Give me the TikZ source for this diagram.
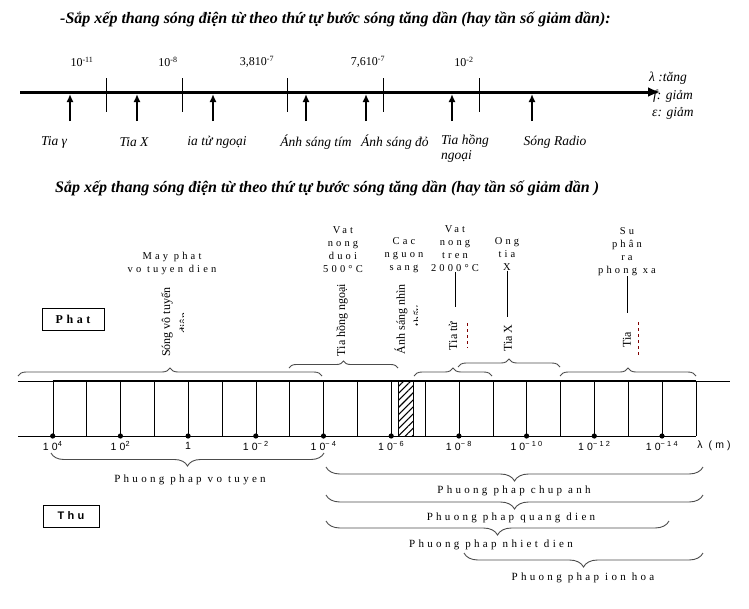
\documentclass[tikz,border=0pt]{standalone}
\usepackage{fontspec}
\setmainfont{Liberation Serif}
\setsansfont{Liberation Sans}
\newfontfamily\spaced[LetterSpace=30]{Liberation Serif}
\newfontfamily\spacedsans[LetterSpace=30]{Liberation Sans}
\usetikzlibrary{arrows.meta,decorations.pathreplacing,patterns.meta,positioning}

\begin{document}
\begin{tikzpicture}[x=1pt,y=-1pt,
  heading/.style={font=\fontsize{16}{18}\selectfont\bfseries\itshape,inner sep=0,anchor=west},
  wave/.style={font=\fontsize{13.5}{15}\selectfont\itshape,inner sep=0},
  num/.style={font=\fontsize{12}{14}\selectfont,inner sep=0},
  upar/.style={line width=1.8pt,-{Latex[length=8pt,width=7pt]}},
  src/.style={font=\fontsize{10.5}{13}\selectfont\spaced,align=center,inner sep=0},
  vlab/.style={font=\fontsize{12}{13}\selectfont,rotate=90,inner sep=0},
  power/.style={font=\fontsize{10.5}{12}\selectfont\spacedsans,inner sep=0},
  method/.style={font=\fontsize{11}{13}\selectfont\spaced,inner sep=0},
  curly/.style={decorate,decoration={brace,amplitude=#1},draw=black!70,line width=0.9pt},
  curly/.default=8,
  redline/.style={draw=red!50!black,dashed,line width=0.8pt}
]
\useasboundingbox (0,0) rectangle (749,608);

% thang song thu nhat
\node[heading] (title1) at (60,19) {-Sắp xếp thang sóng điện từ theo thứ tự bước sóng tăng dần (hay tần số giảm dần):};
\coordinate (ax0) at (20,92);
\coordinate (ax1) at (660,92);
\draw[line width=3pt,-{Latex[length=12pt,width=10pt]}] (ax0) -- (ax1);
\foreach \x in {106,182,287,383,479}
  \draw (\x,78) -- (\x,112);
\node[num] (n11) at (82,62) {10\textsuperscript{-11}};
\node[num] (n8) at (168,62) {10\textsuperscript{-8}};
\node[num] (n38) at (257,62) {3,810\textsuperscript{-7}};
\node[num] (n76) at (368,62) {7,610\textsuperscript{-7}};
\node[num] (n2) at (464,62) {10\textsuperscript{-2}};
\foreach \x/\n in {70/ga,137/x,213/tu,306/tim,366/do,452/hn,532/ra} {
  \coordinate (s-\n) at (\x,121);
  \coordinate (e-\n) at (\x,94);
  \draw[upar] (s-\n) -- (e-\n);
}
\node[wave] (l-ga) at (54,142) {Tia γ};
\node[wave] (l-x) at (134,142) {Tia X};
\node[wave] (l-tu) at (217,142) {ia tử ngoại};
\node[wave] (l-tim) at (316,142) {Ánh sáng tím};
\node[wave,anchor=west] (l-do) at (361,142) {Ánh sáng đỏ};
\node[wave,anchor=north west,align=left] (l-hn) at (441,135) {Tia hồng\\ngoại};
\node[wave] (l-ra) at (555,142) {Sóng Radio};
\node[wave,anchor=west] (l-lam) at (649,78) {λ :tăng};
\node[wave,anchor=west] (l-f) at (653,96) {f: giảm};
\node[wave,anchor=west] (l-e) at (652,113) {ε: giảm};

% thang song thu hai
\node[heading] (title2) at (55,188) {Sắp xếp thang sóng điện từ theo thứ tự bước sóng tăng dần (hay tần số giảm dần )};
\draw (18,381) -- (730,381);
\draw[line width=1.8pt] (52.7,381) -- (695.9,381);
\draw (18,436) -- (695.9,436);
\foreach \k in {0,...,19} {
  \pgfmathsetmacro\xk{52.7+33.85*\k}
  \draw (\xk,381) -- (\xk,436);
}
\foreach \k/\t in {0/{10\textsuperscript{4}},2/{10\textsuperscript{2}},4/{1},6/{10\textsuperscript{−2}},8/{10\textsuperscript{−4}},10/{10\textsuperscript{−6}},12/{10\textsuperscript{−8}},14/{10\textsuperscript{−10}},16/{10\textsuperscript{−12}},18/{10\textsuperscript{−14}}} {
  \pgfmathsetmacro\xk{52.7+33.85*\k}
  \fill (\xk,436) circle (2.6);
  \node[power] at (\xk,446) {\t};
}
\node[power] (lam) at (714,446) {λ (m)};
\fill[pattern={Lines[angle=45,distance=5pt,line width=1.1pt]}] (398,381) rectangle (413,436);
\draw (398,381) -- (398,436) (413,381) -- (413,436);

% nguon phat
\node[draw,thick,minimum width=62pt,minimum height=22pt,inner sep=0,font=\fontsize{12}{14}\selectfont\bfseries\spaced] (phat) at (73,319) {Phat};
\node[src] (may) at (172,263) {May phat\\vo tuyen dien};
\node[src] (duoi) at (343,250) {Vat\\nong\\duoi\\500°C};
\node[src] (cac) at (404,255) {Cac\\nguon\\sang};
\node[src] (tren) at (455,249) {Vat\\nong\\tren\\2000°C};
\node[src] (ong) at (507,254) {Ong\\tia\\X};
\node[src] (phanra) at (627,252) {Su\\phân\\ra\\phong xa};

\node[vlab] (v-vt) at (167,322) {Sóng vô tuyến};
\begin{scope}
  \clip (176,300) rectangle (183,345);
  \node[vlab] (v-vt2) at (185,323) {điện};
\end{scope}
\node[vlab] (v-hn) at (342,320) {Tia hồng ngoại};
\node[vlab] (v-as) at (401,319) {Ánh sáng nhìn};
\begin{scope}
  \clip (410,295) rectangle (417,340);
  \node[vlab] (v-as2) at (419,316) {thấy};
\end{scope}
\node[vlab] (v-tu) at (453,336) {Tia tử};
\node[vlab] (v-x) at (508,338) {Tia X};
\node[vlab] (v-ga) at (627,340) {Tia};
\draw[redline] (467,323) -- (467,348);
\draw[redline] (638,322) -- (638,357);

\coordinate (e-tren) at (455,307);
\coordinate (e-ong) at (507,317);
\coordinate (e-phanra) at (627,313);
\draw (tren.south) -- (e-tren);
\draw (ong.south) -- (e-ong);
\draw (phanra.south) -- (e-phanra);

\draw[curly=8] (18,376) -- (322,376);
\draw[curly=7] (289,368) -- (398,368);
\draw[curly=8] (414,376) -- (492,376);
\draw[curly=8] (458,367) -- (560,367);
\draw[curly=8] (560,376) -- (696,376);

% phuong phap thu
\node[draw,thick,minimum width=56pt,minimum height=22pt,inner sep=0,font=\fontsize{11}{13}\selectfont\bfseries\spacedsans] (thu) at (71,516) {Thu};
\draw[curly=13] (324,453) -- (51,453);
\draw[curly=14] (703,467) -- (326,467);
\draw[curly=14] (703,495) -- (326,495);
\draw[curly=14] (669,521) -- (326,521);
\draw[curly=14] (703,553) -- (464,553);
\node[method] (m-vt) at (190,480) {Phuong phap vo tuyen};
\node[method] (m-ca) at (514,491) {Phuong phap chup anh};
\node[method] (m-qd) at (511,518) {Phuong phap quang dien};
\node[method] (m-nd) at (491,545) {Phuong phap nhiet dien};
\node[method] (m-ih) at (583,578) {Phuong phap ion hoa};
\end{tikzpicture}
\end{document}
